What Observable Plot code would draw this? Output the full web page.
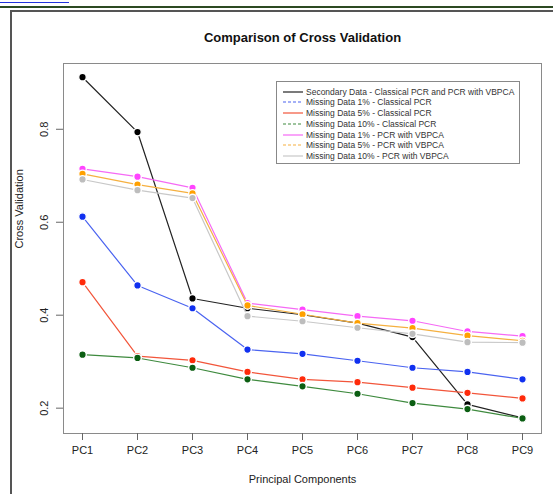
<!DOCTYPE html>
<html><head><meta charset="utf-8">
<script src="https://cdn.jsdelivr.net/npm/d3@7"></script>
<script src="https://cdn.jsdelivr.net/npm/@observablehq/plot@0.6"></script>
<style>
body{margin:0;background:#fff;font-family:"Liberation Sans",Arial,Helvetica,sans-serif;}
#wrap{position:relative;width:553px;height:494px;overflow:hidden;background:#fff;}
#wrap svg{position:absolute;left:0;top:0;}
.deco-link{position:absolute;left:0;top:2px;width:69px;height:0;border-top:1px solid #2233dd;}
.deco-rule{position:absolute;left:0;top:6px;width:553px;height:2px;background:#2c4a22;}
.deco-frame{position:absolute;left:10px;top:10px;width:700px;height:700px;border-left:2px solid #555;border-top:2px solid #555;}
#legend{position:absolute;left:276px;top:81px;width:242px;height:81px;border:1px solid #888;background:#fff;font-size:8.5px;color:#333;}
#legend .row{position:absolute;left:0;height:10px;line-height:10px;white-space:nowrap;}
#legend svg{position:absolute;left:5px;top:0;}
#legend span{position:absolute;left:29px;top:0;}
</style></head>
<body><div id="wrap">
<div class="deco-link"></div><div class="deco-rule"></div><div class="deco-frame"></div>
</div>
<script>
const components = ["PC1","PC2","PC3","PC4","PC5","PC6","PC7","PC8","PC9"];
const seriesNames = [
  "Secondary Data - Classical PCR and PCR with VBPCA",
  "Missing Data 1% - Classical PCR",
  "Missing Data 5% - Classical PCR",
  "Missing Data 10% - Classical PCR",
  "Missing Data 1% - PCR with VBPCA",
  "Missing Data 5% - PCR with VBPCA",
  "Missing Data 10% - PCR with VBPCA"
];
const secondary      = [0.912, 0.794, 0.436, 0.415, 0.401, 0.383, 0.353, 0.208, 0.179];
const missing1Class  = [0.612, 0.464, 0.415, 0.326, 0.317, 0.302, 0.287, 0.278, 0.262];
const missing5Class  = [0.471, 0.312, 0.303, 0.278, 0.262, 0.256, 0.244, 0.233, 0.221];
const missing10Class = [0.315, 0.308, 0.287, 0.262, 0.247, 0.231, 0.211, 0.198, 0.178];
const missing1Vb     = [0.715, 0.698, 0.674, 0.426, 0.412, 0.398, 0.388, 0.365, 0.355];
const missing5Vb     = [0.704, 0.681, 0.662, 0.421, 0.402, 0.383, 0.372, 0.356, 0.345];
const missing10Vb    = [0.692, 0.669, 0.652, 0.398, 0.387, 0.373, 0.360, 0.342, 0.341];
const yTicks = [0.2, 0.4, 0.6, 0.8];
const titleText = "Comparison of Cross Validation";
const xTitle = "Principal Components";
const yTitle = "Cross Validation";

const seriesValues = [secondary, missing1Class, missing5Class, missing10Class, missing1Vb, missing5Vb, missing10Vb];
const lineColors = ["#222222", "#4a63f0", "#f2553a", "#3e8a3e", "#f56af5", "#f5b040", "#c8c8c8"];
const dotColors  = ["#000000", "#1030f0", "#ff2a0a", "#0b5e12", "#ff44ff", "#ffa000", "#bdbdbd"];
const legendDash = [null, "3,2", null, "3,2", null, "3,2", null];

const font = '"Liberation Sans", Arial, Helvetica, sans-serif';
const marks = [
  Plot.frame({stroke: "#8a8a8a"}),
  Plot.axisX({tickSize: 7, tickPadding: 6, label: null, stroke: "#666", fill: "#222", fontSize: 11}),
  Plot.axisY({ticks: yTicks, tickSize: 7, tickFormat: () => "", label: null, stroke: "#666"}),
  Plot.text(yTicks, {y: d => d, text: d => d.toFixed(1), frameAnchor: "left", dx: -19, rotate: -90, textAnchor: "middle", lineAnchor: "middle", fill: "#222", fontSize: 11}),
  Plot.text([titleText], {frameAnchor: "top", dy: -26, lineAnchor: "middle", fontWeight: "bold", fontSize: 13, fill: "#111"}),
  Plot.text([xTitle], {frameAnchor: "bottom", dy: 46, lineAnchor: "middle", fontSize: 11, fill: "#222"}),
  Plot.text([yTitle], {frameAnchor: "left", dx: -44, rotate: -90, lineAnchor: "middle", fontSize: 11, fill: "#222"})
];
seriesValues.forEach((vals, k) => {
  const rows = components.map((c, i) => ({pc: c, v: vals[i], s: seriesNames[k]}));
  marks.push(Plot.line(rows, {x: "pc", y: "v", stroke: lineColors[k], strokeWidth: 1.2}));
  marks.push(Plot.dot(rows, {x: "pc", y: "v", r: 3.8, fill: dotColors[k], stroke: "white", strokeWidth: 1.4}));
});

const chart = Plot.plot({
  width: 553, height: 494,
  marginLeft: 63, marginRight: 12, marginTop: 63, marginBottom: 61,
  style: {fontFamily: font, fontSize: "11px", background: "transparent", color: "#222"},
  x: {type: "point", domain: components, padding: 0.32},
  y: {domain: [0.1455, 0.9415]},
  marks
});
const wrap = document.getElementById("wrap");
wrap.appendChild(chart);

const legend = document.createElement("div");
legend.id = "legend";
seriesNames.forEach((name, k) => {
  const row = document.createElement("div");
  row.className = "row";
  row.style.top = (4.5 + k * 10.75) + "px";
  row.style.width = "240px";
  const dash = legendDash[k] ? ` stroke-dasharray="${legendDash[k]}"` : "";
  row.innerHTML = `<svg width="22" height="10"><line x1="1" x2="21" y1="5" y2="5" stroke="${lineColors[k]}" stroke-width="1.2"${dash}/></svg><span>${name}</span>`;
  legend.appendChild(row);
});
wrap.appendChild(legend);
</script>
</body></html>
